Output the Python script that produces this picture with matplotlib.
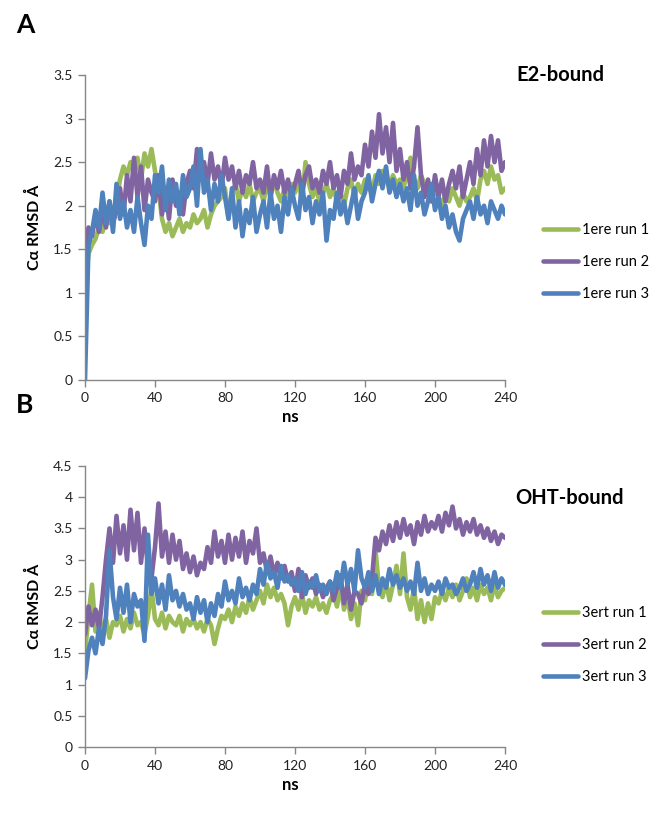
import numpy as np
import matplotlib
matplotlib.use("Agg")
import matplotlib.pyplot as plt

plt.rcParams['font.family'] = ['Lato', 'DejaVu Sans']

# time axis, ns (one reading every 2 ns)
ns = np.arange(0, 241, 2)

# A: E2-bound (1ere)
e2_run1 = [1.10, 1.45, 1.55, 1.62, 1.75, 1.70, 1.85, 1.80, 1.95, 2.05,
           2.30, 2.45, 2.35, 2.50, 2.40, 2.55, 2.30, 2.60, 2.45, 2.65,
           2.40, 2.20, 1.85, 1.70, 1.80, 1.65, 1.75, 1.85, 1.70, 1.80,
           1.75, 1.90, 1.80, 1.85, 1.95, 1.75, 1.90, 2.00, 2.05, 2.10,
           2.20, 1.85, 2.15, 2.25, 2.05, 2.20, 2.10, 2.25, 2.05, 2.15,
           2.20, 2.05, 2.25, 2.10, 2.30, 2.15, 2.05, 2.20, 2.10, 2.25,
           2.15, 2.30, 2.05, 2.50, 2.25, 2.10, 2.20, 2.05, 2.15, 2.25,
           2.10, 2.20, 2.05, 2.15, 2.00, 2.20, 2.30, 2.10, 2.25, 2.15,
           2.30, 2.20, 2.15, 2.35, 2.25, 2.40, 2.30, 2.20, 2.35, 2.25,
           2.30, 2.20, 2.40, 2.55, 2.30, 2.20, 2.35, 2.25, 2.15, 2.05,
           2.20, 2.10, 2.00, 2.15, 2.05, 2.20, 2.10, 2.00, 2.15, 2.05,
           2.10, 2.20, 2.05, 2.30, 2.40, 2.25, 2.45, 2.30, 2.35, 2.15,
           2.20]
e2_run2 = [1.50, 1.75, 1.65, 1.90, 1.70, 1.95, 1.75, 2.05, 1.80, 1.95,
           2.20, 1.90, 2.35, 2.05, 2.55, 2.10, 2.45, 1.95, 2.30, 2.15,
           2.05, 2.35, 1.90, 2.20, 1.85, 2.30, 2.00, 2.15, 1.90, 2.25,
           2.40, 2.20, 2.65, 2.35, 2.50, 2.25, 2.60, 2.30, 2.45, 2.20,
           2.55, 2.30, 2.45, 2.20, 2.40, 2.15, 2.35, 2.25, 2.50, 2.20,
           2.30, 2.15, 2.45, 2.10, 2.35, 2.20, 2.40, 2.15, 2.30, 2.10,
           2.25, 2.40, 2.15, 2.35, 2.45, 2.20, 2.30, 2.15, 2.40, 2.25,
           2.50, 2.20, 2.35, 2.10, 2.40, 2.25, 2.60, 2.30, 2.45, 2.35,
           2.70, 2.45, 2.85, 2.55, 3.05, 2.60, 2.90, 2.50, 2.95, 2.40,
           2.65, 2.30, 2.50, 2.20, 2.45, 2.90, 2.35, 2.10, 2.30, 2.05,
           2.35, 2.10, 2.30, 2.05, 2.25, 2.40, 2.20, 2.45, 2.10, 2.30,
           2.50, 2.25, 2.65, 2.35, 2.75, 2.45, 2.80, 2.50, 2.75, 2.40,
           2.50]
e2_run3 = [0.00, 1.55, 1.70, 1.95, 1.75, 2.15, 1.80, 2.05, 1.70, 2.25,
           1.85, 2.05, 1.75, 1.95, 1.70, 2.10, 1.80, 1.55, 2.00, 1.85,
           2.35, 2.15, 2.45, 1.95, 2.30, 2.05, 2.25, 1.90, 2.35, 2.10,
           2.20, 2.45, 2.00, 2.65, 2.15, 2.30, 1.95, 2.25, 2.05, 2.35,
           2.10, 1.85, 2.20, 1.75, 2.05, 1.65, 1.95, 1.80, 2.10, 1.70,
           1.90, 2.05, 1.75, 2.15, 1.85, 2.00, 1.70, 2.10, 1.90, 2.20,
           2.00, 1.85, 2.25, 1.95, 2.10, 1.80, 2.05, 1.90, 2.15, 1.60,
           1.95, 1.85, 2.15, 1.90, 2.05, 1.80, 2.00, 2.20, 1.85, 2.05,
           2.15, 2.35, 2.05, 2.25, 2.40, 2.20, 2.45, 2.15, 2.30, 2.10,
           2.25, 2.05, 2.20, 1.95, 2.35, 2.00, 2.15, 1.90, 2.05, 2.25,
           1.95, 2.10, 1.85, 2.00, 1.75, 1.90, 1.70, 1.60, 1.85, 1.95,
           2.05, 1.85, 2.10, 1.90, 2.00, 1.80, 2.05, 1.95, 1.85, 2.00,
           1.90]

# B: OHT-bound (3ert)
oht_run1 = [1.50, 2.10, 2.60, 1.85, 2.15, 1.80, 2.05, 1.75, 2.00, 1.95,
            2.10, 1.85, 2.05, 1.90, 2.15, 1.95, 2.00, 1.80, 2.10, 2.55,
            2.05, 1.95, 2.15, 1.90, 2.10, 2.00, 1.95, 2.10, 1.85, 2.05,
            1.95, 2.05, 1.90, 2.00, 1.85, 2.05, 1.95, 1.65, 1.90, 2.10,
            2.05, 2.20, 2.00, 2.25, 2.10, 2.30, 2.15, 2.40, 2.20, 2.35,
            2.50, 2.30, 2.60, 2.40, 2.55, 2.35, 2.45, 2.30, 1.95, 2.25,
            2.40, 2.20, 2.45, 2.15, 2.35, 2.25, 2.40, 2.20, 2.30, 2.15,
            2.35, 2.45, 2.25, 2.60, 2.20, 2.40, 2.05, 2.30, 1.95, 2.50,
            2.35, 2.70, 2.45, 3.15, 2.55, 2.40, 2.65, 2.35, 2.60, 2.90,
            2.45, 3.10, 2.40, 2.20, 2.55, 2.05, 2.35, 2.00, 2.30, 2.05,
            2.40, 2.30, 2.50, 2.35, 2.55, 2.40, 2.60, 2.35, 2.50, 2.70,
            2.40, 2.55, 2.35, 2.60, 2.45, 2.55, 2.35, 2.60, 2.40, 2.50,
            2.55]
oht_run2 = [1.80, 2.25, 1.95, 2.20, 1.90, 2.40, 3.00, 3.50, 2.95, 3.70,
            3.10, 3.55, 3.00, 3.80, 3.15, 3.75, 2.95, 3.50, 2.85, 2.70,
            3.20, 3.90, 3.05, 3.45, 2.95, 3.40, 3.00, 3.30, 2.85, 3.10,
            2.80, 3.05, 2.75, 2.95, 2.85, 3.20, 2.95, 3.45, 3.05, 3.30,
            2.95, 3.40, 3.00, 3.35, 3.05, 3.45, 2.95, 3.30, 3.10, 3.50,
            2.95, 3.10, 2.80, 3.05, 2.75, 2.95, 2.70, 2.90, 2.65, 2.80,
            2.50, 2.85, 2.40, 2.75, 2.55, 2.70, 2.45, 2.60, 2.40, 2.55,
            2.65, 2.35, 2.55, 2.75, 2.30, 2.60, 2.20, 2.50, 2.45, 2.30,
            2.60, 2.45, 2.70, 3.35, 3.15, 3.45, 3.25, 3.55, 3.30, 3.60,
            3.35, 3.65, 3.40, 3.55, 3.25, 3.60, 3.40, 3.70, 3.45, 3.60,
            3.50, 3.70, 3.45, 3.75, 3.55, 3.85, 3.50, 3.65, 3.40, 3.60,
            3.45, 3.65, 3.40, 3.55, 3.35, 3.50, 3.30, 3.45, 3.25, 3.40,
            3.35]
oht_run3 = [1.10, 1.55, 1.75, 1.50, 1.90, 1.65, 2.10, 3.15, 2.40, 2.05,
            2.55, 2.15, 2.60, 2.00, 2.45, 2.25, 2.35, 1.70, 3.40, 2.45,
            2.70, 2.30, 2.60, 2.20, 2.75, 2.35, 2.50, 2.25, 2.45, 2.20,
            2.30, 2.05, 2.40, 2.15, 2.35, 2.00, 2.30, 2.10, 2.45, 2.25,
            2.65, 2.35, 2.50, 2.30, 2.70, 2.40, 2.55, 2.35, 2.60, 2.45,
            2.85, 2.60, 2.95, 2.70, 2.80, 2.55, 2.90, 2.65, 2.75, 2.60,
            2.70, 2.50, 2.80, 2.45, 2.65, 2.55, 2.75, 2.50, 2.60, 2.45,
            2.65, 2.50, 2.80, 2.55, 2.95, 2.60, 2.85, 2.50, 3.15, 2.70,
            2.55, 2.80, 2.50, 2.75, 2.45, 2.70, 2.55, 2.85, 2.60, 2.75,
            2.55, 2.70, 2.50, 2.65, 2.45, 2.95, 2.50, 2.70, 2.45, 2.60,
            2.50, 2.65, 2.45, 2.70, 2.55, 2.60, 2.45, 2.55, 2.70, 2.50,
            2.60, 2.80, 2.55, 2.85, 2.60, 2.75, 2.50, 2.80, 2.55, 2.70,
            2.60]

colors = ['#9BBB59', '#8064A2', '#4F81BD']
xticks = [0, 40, 80, 120, 160, 200, 240]

fig = plt.figure(figsize=(6.65, 8.14), dpi=100)
W, H = 665.0, 814.0

def panel(rect, series, labels, ymax, title, title_xy, letter, letter_xy, leg_y, xlab_y):
    l, t, r, b = rect
    ax = fig.add_axes([l / W, 1 - b / H, (r - l) / W, (b - t) / H])
    for s, c, lab in zip(series, colors, labels):
        ax.plot(ns, s, color=c, lw=3.3, label=lab, solid_capstyle='round')
    ax.set_xlim(0, 240)
    ax.set_ylim(0, ymax)
    ax.set_xticks(xticks)
    ax.set_yticks(np.arange(0, ymax + 0.01, 0.5))
    ax.set_yticklabels(['0'] + ['%g' % v for v in np.arange(0.5, ymax + 0.01, 0.5)])
    for sp in ['top', 'right']:
        ax.spines[sp].set_visible(False)
    for sp in ['left', 'bottom']:
        ax.spines[sp].set_color('#868686')
        ax.spines[sp].set_linewidth(1.0)
    ax.tick_params(direction='out', length=5, width=1, color='#868686',
                   labelsize=10, labelcolor='#222222', pad=4)
    ax.set_ylabel('C\u03b1 RMSD \u00c5', fontsize=11.5, fontweight='bold', labelpad=8)
    fig.text(290 / W, 1 - xlab_y / H, 'ns', ha='center', va='center',
             fontsize=12, fontweight='bold')
    fig.text(title_xy[0] / W, 1 - title_xy[1] / H, title, ha='center', va='center',
             fontsize=14.5, fontweight='bold')
    fig.text(letter_xy[0] / W, 1 - letter_xy[1] / H, letter, ha='center', va='center',
             fontsize=19, fontweight='bold')
    fig.legend(handles=ax.get_lines(), loc='center left',
               bbox_to_anchor=(543 / W, 1 - leg_y / H), frameon=False,
               fontsize=10.5, handlelength=2.4, handletextpad=0.3,
               labelspacing=1.25, borderpad=0, borderaxespad=0)
    return ax

panel((85, 75, 505, 380), [e2_run1, e2_run2, e2_run3],
      ['1ere run 1', '1ere run 2', '1ere run 3'], 3.5,
      'E2-bound', (560, 75), 'A', (25, 25), 262, 417)
panel((85, 466, 505, 747), [oht_run1, oht_run2, oht_run3],
      ['3ert run 1', '3ert run 2', '3ert run 3'], 4.5,
      'OHT-bound', (570, 498), 'B', (25, 405), 645, 785)

fig.savefig('out.png', dpi=100)
